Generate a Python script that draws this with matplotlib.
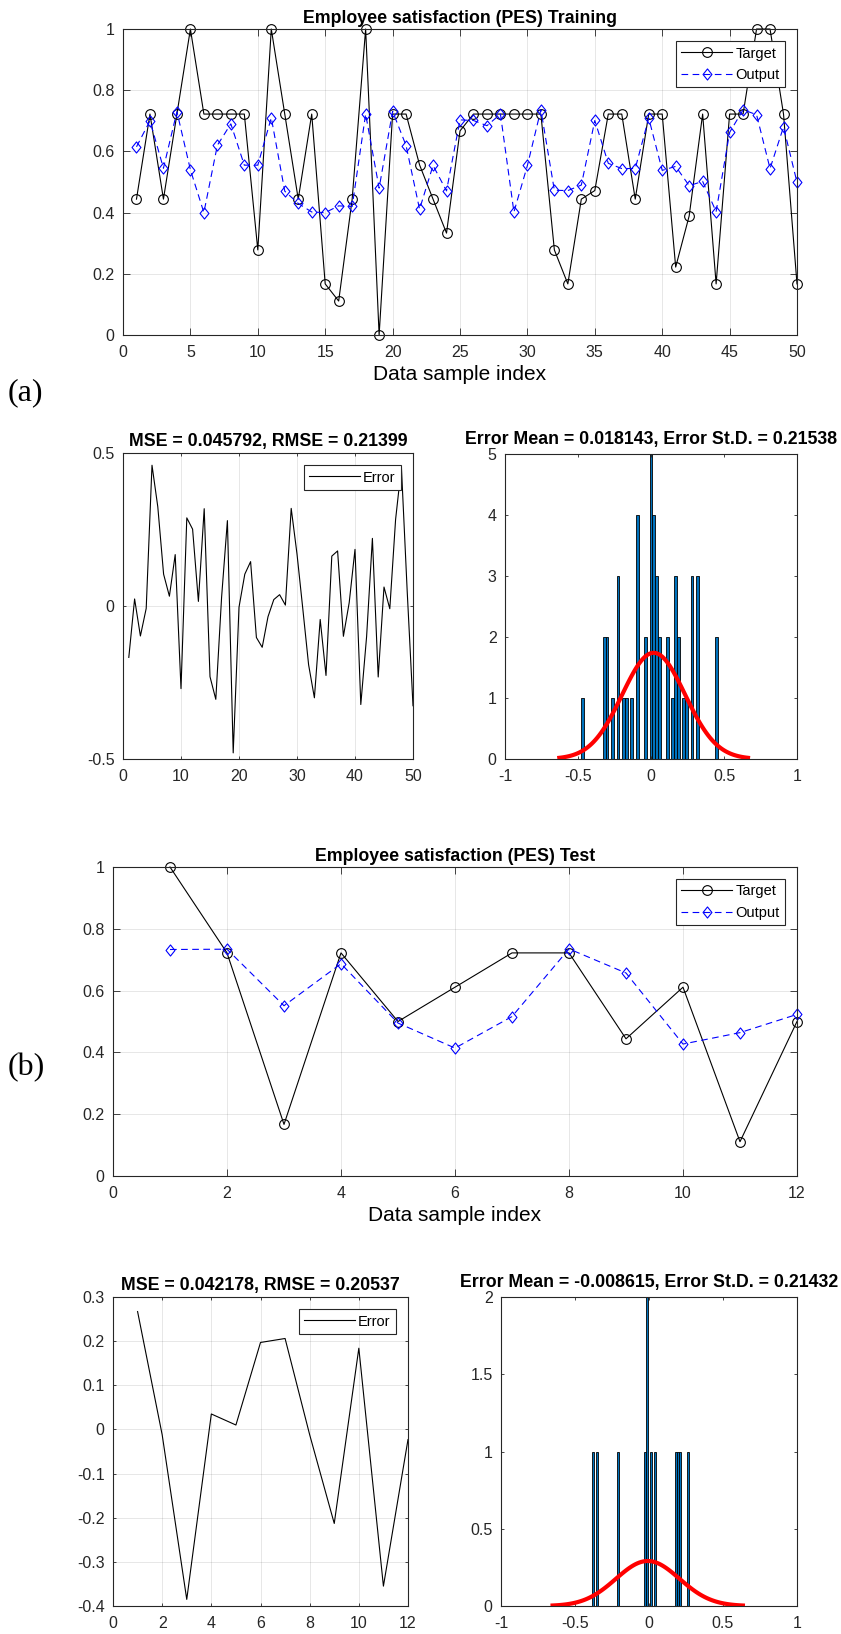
import numpy as np
import matplotlib.pyplot as plt
from matplotlib.path import Path
from matplotlib.ticker import FuncFormatter

plt.rcParams['font.family'] = ['Liberation Sans', 'DejaVu Sans']

# training data (50 samples)
train_target = [0.444, 0.722, 0.444, 0.722, 1.0, 0.722, 0.722, 0.722, 0.722, 0.278,
                1.0, 0.722, 0.444, 0.722, 0.167, 0.111, 0.444, 1.0, 0.0, 0.722,
                0.722, 0.556, 0.444, 0.333, 0.667, 0.722, 0.722, 0.722, 0.722, 0.722,
                0.722, 0.278, 0.167, 0.444, 0.472, 0.722, 0.722, 0.444, 0.722, 0.722,
                0.222, 0.389, 0.722, 0.167, 0.722, 0.722, 1.0, 1.0, 0.722, 0.167]
train_output = [0.615, 0.700, 0.545, 0.730, 0.540, 0.400, 0.620, 0.690, 0.555, 0.555,
                0.710, 0.470, 0.430, 0.402, 0.400, 0.422, 0.420, 0.722, 0.480, 0.731,
                0.619, 0.411, 0.554, 0.471, 0.703, 0.701, 0.684, 0.722, 0.402, 0.554,
                0.736, 0.473, 0.472, 0.490, 0.701, 0.561, 0.544, 0.544, 0.709, 0.538,
                0.551, 0.488, 0.502, 0.403, 0.662, 0.736, 0.720, 0.544, 0.680, 0.499]
train_error = [-0.168, 0.023, -0.098, -0.008, 0.460, 0.324, 0.104, 0.032, 0.168, -0.270,
               0.288, 0.251, 0.015, 0.318, -0.231, -0.305, 0.029, 0.279, -0.480, -0.004,
               0.104, 0.145, -0.103, -0.135, -0.035, 0.021, 0.037, 0.003, 0.319, 0.170,
               -0.009, -0.192, -0.300, -0.044, -0.227, 0.163, 0.180, -0.099, 0.011, 0.185,
               -0.322, -0.100, 0.221, -0.232, 0.062, -0.009, 0.283, 0.455, 0.048, -0.326]
train_mse, train_rmse = 0.045792, 0.21399
train_mean, train_std = 0.018143, 0.21538

# test data (12 samples)
test_target = [1.0, 0.722, 0.167, 0.722, 0.5, 0.611, 0.722, 0.722, 0.444, 0.611, 0.111, 0.5]
test_output = [0.733, 0.734, 0.551, 0.687, 0.495, 0.414, 0.516, 0.735, 0.657, 0.427, 0.464, 0.523]
test_error = [0.267, -0.012, -0.385, 0.035, 0.010, 0.197, 0.206, -0.012, -0.213, 0.184, -0.355, -0.023]
test_mse, test_rmse = 0.042178, 0.20537
test_mean, test_std = -0.008615, 0.21432

nbins = 50
W, H = 841, 1634
fig = plt.figure(figsize=(W / 100, H / 100), dpi=100)

AX_COL = '#262626'
fmt = FuncFormatter(lambda v, p: '%g' % (round(v, 6) + 0.0))
# matlab style diamond (a bit taller than wide)
diamond = Path([(0, 1), (0.8, 0), (0, -1), (-0.8, 0), (0, 1)],
               [Path.MOVETO, Path.LINETO, Path.LINETO, Path.LINETO, Path.CLOSEPOLY])


def px_axes(x0, y0, x1, y1):
    return fig.add_axes([x0 / W, 1 - y1 / H, (x1 - x0) / W, (y1 - y0) / H])


def style(ax, ticklen, grid=True):
    for s in ax.spines.values():
        s.set_color(AX_COL)
        s.set_linewidth(0.8)
    ax.tick_params(direction='in', top=True, right=True, length=ticklen, width=0.6,
                   colors=AX_COL, labelsize=11.5)
    ax.tick_params(axis='x', pad=7)
    ax.tick_params(axis='y', pad=6)
    ax.xaxis.set_major_formatter(fmt)
    ax.yaxis.set_major_formatter(fmt)
    if grid:
        ax.grid(True, color=AX_COL, alpha=0.13, linewidth=0.6)
        ax.set_axisbelow(True)


def add_legend(ax):
    leg = ax.legend(loc='upper right', fontsize=10.5, handlelength=3.5, handletextpad=0.2,
                    borderpad=0.35, borderaxespad=0.85, fancybox=False, framealpha=1,
                    edgecolor=AX_COL)
    leg.get_frame().set_linewidth(0.8)


def fit_plot(ax, x, y_t, y_o, title, xticks):
    ax.plot(x, y_t, '-', marker='o', color='k', lw=0.8, ms=7, mfc='none', mew=0.8,
            label='Target', clip_on=False)
    ax.plot(x, y_o, '--', marker=diamond, color='b', lw=0.8, ms=8, mfc='none', mew=0.8,
            dashes=(6, 4), label='Output', clip_on=False)
    ax.set_xlim(0, x[-1])
    ax.set_ylim(0, 1)
    ax.set_xticks(xticks)
    ax.set_yticks(np.arange(0, 1.01, 0.2))
    ax.set_title(title, fontsize=12.8, fontweight='bold', pad=4.5)
    ax.set_xlabel('Data sample index', fontsize=15, labelpad=4)
    add_legend(ax)
    style(ax, 5)


def err_plot(ax, x, e, mse, rmse, ylim, yticks, xticks):
    ax.plot(x, e, '-', color='k', lw=0.8, label='Error')
    ax.set_xlim(0, x[-1])
    ax.set_ylim(*ylim)
    ax.set_xticks(xticks)
    ax.set_yticks(yticks)
    ax.set_title('MSE = %g, RMSE = %g' % (mse, rmse), fontsize=12.8, fontweight='bold', pad=5)
    add_legend(ax)
    style(ax, 2.5)


def hist_plot(ax, e, mu, sd, title, ylim, yticks):
    e = np.asarray(e)
    counts, edges = np.histogram(e, bins=nbins)
    bw = edges[1] - edges[0]
    ax.bar(edges[:-1], counts, width=bw, align='edge', color='#0072BD',
           edgecolor='k', linewidth=0.6)
    xs = np.linspace(mu - 3 * sd, mu + 3 * sd, 100)
    ys = len(e) * bw * np.exp(-0.5 * ((xs - mu) / sd) ** 2) / (sd * np.sqrt(2 * np.pi))
    ax.plot(xs, ys, color='r', lw=3)
    ax.set_xlim(-1, 1)
    ax.set_ylim(*ylim)
    ax.set_xticks([-1, -0.5, 0, 0.5, 1])
    ax.set_yticks(yticks)
    ax.set_title(title, fontsize=12.8, fontweight='bold', pad=7)
    style(ax, 2.5, grid=False)


x_tr = np.arange(1, len(train_target) + 1)
x_te = np.arange(1, len(test_target) + 1)

ax1 = px_axes(123, 29, 797, 335)
fit_plot(ax1, x_tr, train_target, train_output, 'Employee satisfaction (PES) Training',
         np.arange(0, 51, 5))

ax2 = px_axes(123, 453, 413, 759)
err_plot(ax2, x_tr, train_error, train_mse, train_rmse, (-0.5, 0.5), [-0.5, 0, 0.5],
         np.arange(0, 51, 10))

ax3 = px_axes(505, 454, 797, 759)
hist_plot(ax3, train_error, train_mean, train_std,
          'Error Mean = %g, Error St.D. = %g' % (train_mean, train_std), (0, 5), np.arange(0, 6, 1))

ax4 = px_axes(113, 867, 797, 1176)
fit_plot(ax4, x_te, test_target, test_output, 'Employee satisfaction (PES) Test',
         np.arange(0, 13, 2))

ax5 = px_axes(113, 1297, 408, 1606)
err_plot(ax5, x_te, test_error, test_mse, test_rmse, (-0.4, 0.3),
         np.arange(-0.4, 0.31, 0.1), np.arange(0, 13, 2))

ax6 = px_axes(501, 1297, 797, 1606)
hist_plot(ax6, test_error, test_mean, test_std,
          'Error Mean = %g, Error St.D. = %g' % (test_mean, test_std), (0, 2),
          np.arange(0, 2.01, 0.5))

fig.text(8 / W, 1 - 393 / H, '(a)', family='Liberation Serif', fontsize=23, va='center')
fig.text(8 / W, 1 - 1068 / H, '(b)', family='Liberation Serif', fontsize=23, va='center')

fig.savefig('out.png', dpi=100)
